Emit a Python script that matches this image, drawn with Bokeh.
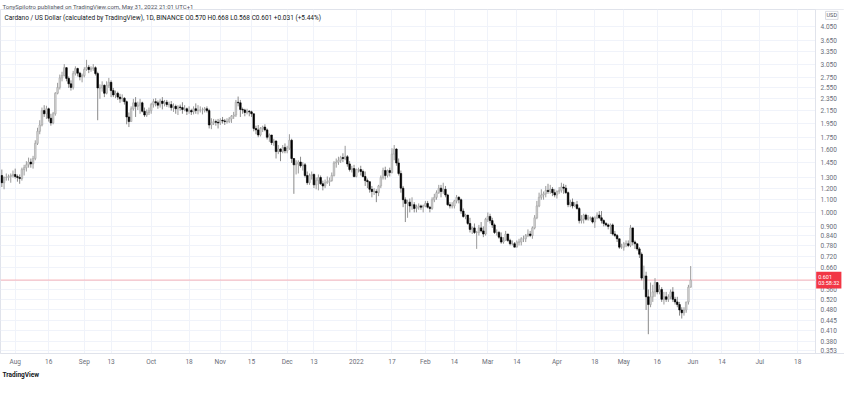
import pandas as pd
from bokeh.plotting import figure
from bokeh.models import (FixedTicker, Label, Span, Title, Range1d, ColumnDataSource,
                          PrintfTickFormatter, BoxAnnotation)
from bokeh.embed import file_html
from bokeh.resources import INLINE

# ---------------- data ----------------
start_date = "2021-07-26"
end_date = "2022-05-31"
first_open = 1.32

closes = [
    # Jul 26-31
    1.25, 1.30, 1.30, 1.31, 1.32, 1.33,
    # Aug
    1.31, 1.30, 1.29, 1.38, 1.40, 1.43, 1.46, 1.44, 1.50, 1.68, 1.84, 1.93, 2.15, 2.10, 2.18, 2.03,
    1.96, 2.10, 2.45, 2.56, 2.75, 2.80, 2.97, 2.74, 2.63, 2.56, 2.84, 2.95, 2.85, 2.77, 2.80,
    # Sep
    2.93, 2.98, 2.93, 2.95, 2.97, 2.84, 2.55, 2.55, 2.60, 2.45, 2.60, 2.66, 2.50, 2.42, 2.45,
    2.38, 2.35, 2.36, 2.30, 2.05, 1.98, 2.18, 2.28, 2.22, 2.24, 2.28, 2.14, 2.08, 2.12, 2.15,
    # Oct
    2.25, 2.30, 2.28, 2.24, 2.31, 2.27, 2.29, 2.25, 2.25, 2.20, 2.22, 2.18, 2.21, 2.20, 2.17,
    2.18, 2.14, 2.15, 2.13, 2.18, 2.15, 2.16, 2.16, 2.16, 2.18, 2.15, 1.93, 1.96, 1.98, 1.97, 1.96,
    # Nov
    2.00, 1.99, 1.98, 1.98, 2.02, 2.06, 2.08, 2.29, 2.28, 2.17, 2.16, 2.12, 2.14, 2.13, 2.10,
    1.88, 1.86, 1.79, 1.88, 1.90, 1.86, 1.76, 1.79, 1.69, 1.71, 1.58, 1.61, 1.58, 1.63, 1.59,
    # Dec
    1.62, 1.72, 1.50, 1.43, 1.44, 1.46, 1.42, 1.43, 1.32, 1.25, 1.32, 1.33, 1.23, 1.27, 1.30,
    1.24, 1.22, 1.25, 1.26, 1.27, 1.32, 1.45, 1.46, 1.48, 1.51, 1.50, 1.52, 1.44, 1.38, 1.39, 1.31,
    # Jan 2022
    1.38, 1.38, 1.36, 1.31, 1.27, 1.26, 1.19, 1.17, 1.17, 1.16, 1.22, 1.30, 1.37, 1.32, 1.37,
    1.35, 1.55, 1.61, 1.45, 1.34, 1.20, 1.10, 1.07, 1.08, 1.05, 1.06, 1.03, 1.04, 1.05, 1.04, 1.05,
    # Feb
    1.07, 1.04, 1.03, 1.10, 1.12, 1.16, 1.20, 1.17, 1.19, 1.14, 1.06, 1.05, 1.05, 1.09,
    1.12, 1.10, 1.01, 0.97, 0.98, 0.92, 0.88, 0.89, 0.86, 0.86, 0.89, 0.87, 0.85, 0.95,
    # Mar
    0.97, 0.94, 0.91, 0.86, 0.86, 0.83, 0.80, 0.81, 0.85, 0.81, 0.79, 0.79, 0.77, 0.80, 0.80,
    0.82, 0.82, 0.84, 0.85, 0.84, 0.89, 0.96, 1.05, 1.12, 1.14, 1.15, 1.18, 1.17, 1.19, 1.16, 1.14,
    # Apr
    1.17, 1.18, 1.21, 1.20, 1.16, 1.06, 1.08, 1.05, 1.06, 1.03, 0.94, 0.95, 0.98, 0.95, 0.96,
    0.96, 0.93, 0.96, 0.98, 0.96, 0.94, 0.92, 0.91, 0.90, 0.91, 0.85, 0.84, 0.82, 0.77, 0.77,
    # May
    0.79, 0.79, 0.78, 0.89, 0.80, 0.79, 0.76, 0.73, 0.61, 0.62, 0.53, 0.50, 0.53, 0.55, 0.59,
    0.55, 0.56, 0.52, 0.53, 0.52, 0.53, 0.55, 0.52, 0.51, 0.50, 0.48, 0.47, 0.48, 0.51, 0.570, 0.601,
]

highs = [
    1.38, 1.31, 1.34, 1.33, 1.34, 1.37,
    1.39, 1.33, 1.33, 1.40, 1.43, 1.47, 1.51, 1.50, 1.53, 1.72, 1.89, 2.00, 2.20, 2.24, 2.23, 2.20,
    2.10, 2.13, 2.47, 2.65, 2.82, 2.88, 3.05, 2.98, 2.78, 2.70, 2.90, 3.00, 2.97, 2.88, 2.84,
    2.98, 3.15, 3.03, 3.00, 3.05, 3.00, 2.88, 2.62, 2.68, 2.62, 2.68, 2.75, 2.70, 2.55, 2.50,
    2.48, 2.44, 2.43, 2.38, 2.32, 2.12, 2.22, 2.35, 2.38, 2.30, 2.35, 2.30, 2.20, 2.17, 2.20,
    2.28, 2.35, 2.36, 2.32, 2.35, 2.38, 2.33, 2.33, 2.30, 2.31, 2.27, 2.25, 2.24, 2.25, 2.29,
    2.24, 2.20, 2.22, 2.18, 2.22, 2.27, 2.24, 2.22, 2.20, 2.21, 2.22, 2.18, 2.03, 2.02, 2.01, 2.02,
    2.03, 2.05, 2.02, 2.03, 2.05, 2.08, 2.13, 2.33, 2.39, 2.33, 2.20, 2.18, 2.18, 2.16, 2.15,
    2.10, 1.92, 1.93, 1.90, 1.92, 1.94, 1.88, 1.81, 1.79, 1.74, 1.72, 1.66, 1.62, 1.66, 1.68,
    1.65, 1.80, 1.74, 1.50, 1.48, 1.48, 1.52, 1.46, 1.45, 1.36, 1.34, 1.36, 1.34, 1.30, 1.33,
    1.32, 1.27, 1.28, 1.31, 1.30, 1.35, 1.47, 1.50, 1.52, 1.53, 1.56, 1.65, 1.54, 1.47, 1.42, 1.43,
    1.39, 1.40, 1.42, 1.38, 1.36, 1.29, 1.26, 1.22, 1.20, 1.19, 1.23, 1.32, 1.40, 1.41, 1.38,
    1.40, 1.62, 1.66, 1.62, 1.50, 1.37, 1.22, 1.12, 1.10, 1.11, 1.12, 1.08, 1.06, 1.07, 1.06, 1.06,
    1.09, 1.09, 1.05, 1.12, 1.15, 1.18, 1.23, 1.23, 1.25, 1.22, 1.15, 1.08, 1.08, 1.10,
    1.14, 1.13, 1.11, 1.03, 0.99, 0.98, 0.96, 0.90, 0.92, 0.87, 0.91, 0.93, 0.90, 0.96,
    1.00, 0.99, 0.96, 0.92, 0.88, 0.87, 0.86, 0.83, 0.87, 0.85, 0.82, 0.81, 0.80, 0.81, 0.82,
    0.83, 0.84, 0.85, 0.88, 0.87, 0.90, 0.98, 1.09, 1.16, 1.19, 1.17, 1.22, 1.24, 1.23, 1.21, 1.19,
    1.18, 1.21, 1.25, 1.24, 1.23, 1.17, 1.10, 1.11, 1.08, 1.09, 1.04, 0.98, 0.99, 0.99, 0.98,
    0.97, 0.97, 0.97, 1.00, 1.01, 1.01, 0.95, 0.93, 0.92, 0.92, 0.92, 0.87, 0.85, 0.82, 0.79,
    0.80, 0.81, 0.81, 0.91, 0.89, 0.81, 0.79, 0.77, 0.74, 0.67, 0.64, 0.56, 0.59, 0.58, 0.61,
    0.59, 0.58, 0.57, 0.55, 0.55, 0.54, 0.56, 0.57, 0.53, 0.53, 0.51, 0.49, 0.49, 0.51, 0.58, 0.668,
]

lows = [
    1.21, 1.19, 1.27, 1.27, 1.25, 1.30,
    1.29, 1.26, 1.24, 1.27, 1.32, 1.36, 1.40, 1.40, 1.39, 1.48, 1.66, 1.80, 1.91, 2.05, 2.02, 1.98,
    1.92, 1.94, 2.07, 2.43, 2.52, 2.68, 2.78, 2.68, 2.55, 2.50, 2.52, 2.80, 2.78, 2.70, 2.66,
    2.76, 2.90, 2.85, 2.88, 2.90, 2.80, 2.00, 2.35, 2.48, 2.38, 2.43, 2.55, 2.38, 2.38, 2.36,
    2.33, 2.28, 2.30, 2.25, 1.94, 1.90, 1.98, 2.15, 2.05, 2.16, 2.10, 2.12, 2.05, 2.05, 2.08,
    2.10, 2.20, 2.22, 2.18, 2.20, 2.17, 2.22, 2.21, 2.20, 2.15, 2.13, 2.10, 2.08, 2.15, 2.10,
    2.14, 2.08, 2.10, 2.08, 2.09, 2.10, 2.09, 2.12, 2.09, 2.12, 2.12, 1.88, 1.87, 1.93, 1.92, 1.88,
    1.93, 1.95, 1.93, 1.95, 1.96, 1.96, 2.02, 2.05, 2.22, 2.05, 2.10, 2.06, 2.09, 2.06, 2.05,
    1.84, 1.80, 1.76, 1.77, 1.83, 1.84, 1.73, 1.70, 1.66, 1.65, 1.50, 1.55, 1.47, 1.56, 1.56,
    1.56, 1.60, 1.45, 1.15, 1.33, 1.34, 1.40, 1.37, 1.30, 1.23, 1.23, 1.28, 1.20, 1.19, 1.18,
    1.23, 1.18, 1.20, 1.24, 1.22, 1.26, 1.31, 1.40, 1.43, 1.45, 1.46, 1.48, 1.41, 1.36, 1.35, 1.30,
    1.30, 1.35, 1.32, 1.30, 1.22, 1.20, 1.16, 1.12, 1.14, 1.08, 1.13, 1.20, 1.28, 1.28, 1.30,
    1.31, 1.34, 1.48, 1.42, 1.32, 1.16, 1.04, 0.93, 0.96, 1.00, 1.02, 1.00, 1.00, 1.02, 1.02, 1.00,
    1.04, 1.03, 1.00, 1.02, 1.08, 1.10, 1.15, 1.12, 1.15, 1.12, 1.05, 1.03, 1.03, 1.03,
    1.07, 1.07, 0.99, 0.96, 0.95, 0.91, 0.86, 0.85, 0.85, 0.76, 0.84, 0.86, 0.83, 0.84,
    0.93, 0.92, 0.89, 0.85, 0.84, 0.82, 0.79, 0.79, 0.81, 0.80, 0.78, 0.78, 0.77, 0.77, 0.78,
    0.78, 0.80, 0.80, 0.83, 0.83, 0.82, 0.88, 0.95, 1.04, 1.10, 1.10, 1.12, 1.15, 1.15, 1.13, 1.12,
    1.11, 1.15, 1.16, 1.15, 1.15, 1.04, 1.04, 1.03, 1.04, 1.02, 0.92, 0.92, 0.92, 0.94, 0.94,
    0.94, 0.92, 0.89, 0.95, 0.95, 0.92, 0.90, 0.90, 0.88, 0.85, 0.84, 0.83, 0.80, 0.76, 0.76,
    0.75, 0.77, 0.77, 0.77, 0.78, 0.76, 0.75, 0.71, 0.60, 0.56, 0.48, 0.40, 0.49, 0.51, 0.53,
    0.54, 0.54, 0.51, 0.50, 0.51, 0.51, 0.52, 0.51, 0.50, 0.49, 0.46, 0.45, 0.46, 0.47, 0.50, 0.568,
]

price_ticks = [0.353, 0.380, 0.410, 0.445, 0.480, 0.520, 0.560, 0.600, 0.660, 0.720, 0.780,
               0.840, 0.900, 1.000, 1.100, 1.200, 1.300, 1.450, 1.600, 1.750, 1.950, 2.150,
               2.350, 2.550, 2.750, 3.050, 3.350, 3.650, 4.050]

date_tick_dates = ["2021-08-01", "2021-08-16", "2021-09-01", "2021-09-13", "2021-10-01",
                   "2021-10-18", "2021-11-01", "2021-11-15", "2021-12-01", "2021-12-13",
                   "2022-01-01", "2022-01-17", "2022-02-01", "2022-02-14", "2022-03-01",
                   "2022-03-14", "2022-04-01", "2022-04-18", "2022-05-01", "2022-05-16",
                   "2022-06-01", "2022-06-14", "2022-07-01", "2022-07-18"]
date_tick_labels = ["Aug", "16", "Sep", "13", "Oct", "18", "Nov", "15", "Dec", "13",
                    "2022", "17", "Feb", "14", "Mar", "14", "Apr", "18", "May", "16",
                    "Jun", "14", "Jul", "18"]

last_price = 0.601
countdown = "03:58:32"
header = "TonySpilotro published on TradingView.com, May 31, 2022 21:01 UTC+1"
legend_text = ("Cardano / US Dollar (calculated by TradingView), 1D, BINANCE  "
               "O0.570  H0.668  L0.568  C0.601  +0.031 (+5.44%)")

# ---------------- build ----------------
base = pd.Timestamp("2021-08-01")
dates = pd.date_range(start_date, end_date, freq="D")
xs = [(d - base).days for d in dates]
opens = [first_open] + closes[:-1]

up = [c >= o for o, c in zip(opens, closes)]


def pick(flag):
    return ColumnDataSource(dict(
        x=[x for x, u in zip(xs, up) if u == flag],
        o=[o for o, u in zip(opens, up) if u == flag],
        c=[c for c, u in zip(closes, up) if u == flag],
        h=[h for h, u in zip(highs, up) if u == flag],
        l=[l for l, u in zip(lows, up) if u == flag]))


src_up = pick(True)
src_dn = pick(False)

tick_x = [(pd.Timestamp(d) - base).days for d in date_tick_dates]

FONT = "Roboto"
AXIS_COL = "#6a6d78"
GRID_COL = "#f0f3fa"
X_START, X_AXIS, X_END = -6.6, 359.0, 372.0
Y_LOW, Y_HIGH = 0.346, 4.6

p = figure(width=844, height=379, y_axis_type="log", y_axis_location="right",
           x_range=Range1d(X_START, X_END), y_range=Range1d(Y_LOW, Y_HIGH),
           output_backend="svg", toolbar_location=None,
           min_border_left=0, min_border_right=0, min_border_top=0, min_border_bottom=0)

p.title.text = header
p.title.text_font = FONT
p.title.text_font_size = "6px"
p.title.text_font_style = "normal"
p.title.text_color = "#50535e"
p.title.offset = 2
p.title.standoff = 0

p.background_fill_color = "white"
p.border_fill_color = "white"
p.outline_line_color = "#e0e3eb"

p.xgrid.grid_line_color = GRID_COL
p.ygrid.grid_line_color = GRID_COL
p.ygrid.ticker = FixedTicker(ticks=price_ticks)
p.xgrid.ticker = FixedTicker(ticks=tick_x)

# last price line (under the price-scale cover)
p.add_layout(Span(location=last_price, dimension="width", line_color="#f7a8ae",
                  line_width=1, line_alpha=0.9, level="underlay"))
# price-scale area background
p.add_layout(BoxAnnotation(left=X_AXIS, right=X_END, fill_color="white", fill_alpha=1.0,
                           line_alpha=0, level="underlay"))

# wicks
p.segment(x0="x", x1="x", y0="l", y1="h", source=src_up, line_color="#9b9b9b", line_width=1)
p.segment(x0="x", x1="x", y0="l", y1="h", source=src_dn, line_color="#8a8a8a", line_width=1)
# bodies
p.vbar(x="x", width=0.72, bottom="o", top="c", source=src_up,
       fill_color="#d4d4d4", line_color="#a3a3a3", line_width=0.6)
p.vbar(x="x", width=0.72, bottom="c", top="o", source=src_dn,
       fill_color="#000000", line_color="#000000", line_width=0.6)

# price axis, drawn inside the frame at the pane edge
yax = p.yaxis[0]
yax.fixed_location = X_AXIS
yax.ticker = FixedTicker(ticks=price_ticks, minor_ticks=[])
yax.formatter = PrintfTickFormatter(format="%.3f")
yax.major_label_text_font = FONT
yax.major_label_text_font_size = "6.5px"
yax.major_label_text_color = AXIS_COL
yax.major_tick_out = 0
yax.major_tick_in = 0
yax.minor_tick_out = 0
yax.minor_tick_in = 0
yax.axis_line_color = "#e0e3eb"
yax.major_label_standoff = 5

xax = p.xaxis[0]
xax.ticker = FixedTicker(ticks=tick_x, minor_ticks=[])
xax.major_label_overrides = {t: lab for t, lab in zip(tick_x, date_tick_labels)}
xax.major_label_text_font = FONT
xax.major_label_text_font_size = "6.5px"
xax.major_label_text_color = AXIS_COL
xax.major_tick_out = 0
xax.major_tick_in = 0
xax.minor_tick_out = 0
xax.minor_tick_in = 0
xax.axis_line_color = "#e0e3eb"
xax.major_label_standoff = 4

# legend line inside pane
p.add_layout(Label(x=4, x_units="screen", y=4.3, y_units="data", text=legend_text,
                   text_font=FONT, text_font_size="6.5px", text_color="#131722",
                   text_baseline="middle"))

# price tag on the price scale
p.add_layout(Label(x=X_AXIS + 0.3, y=last_price, text=f"{last_price:.3f}\n{countdown}",
                   text_font=FONT, text_font_size="5.5px", text_color="white",
                   text_baseline="middle", text_line_height=1.1,
                   background_fill_color="#f23645", padding=2))

# USD tag
p.add_layout(Label(x=X_AXIS + 4.5, y=4.4, text="USD",
                   text_font=FONT, text_font_size="5.5px", text_color="#50535e",
                   text_baseline="middle", background_fill_color="white",
                   border_line_color="#c0c3cb", border_line_width=0.6, padding=1))

p.add_layout(Title(text="TradingView", text_font=FONT, text_font_size="6.5px",
                   text_font_style="bold", text_color="#131722", offset=2, standoff=1),
             "below")

open("out.html", "w").write(file_html(p, INLINE))
